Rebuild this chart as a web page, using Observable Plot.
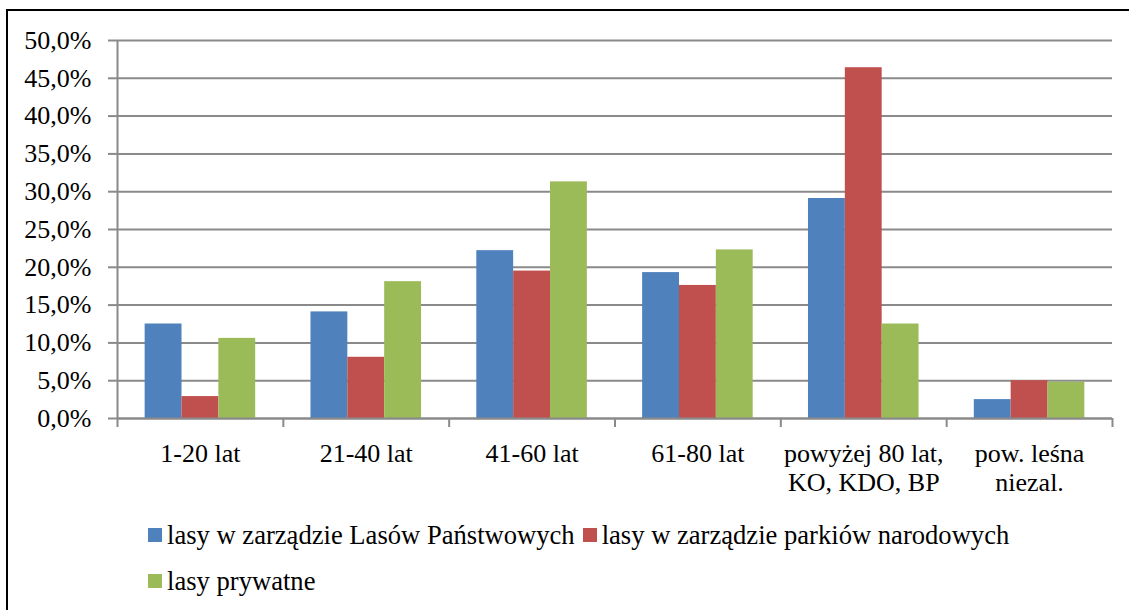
<!DOCTYPE html>
<html>
<head>
<meta charset="utf-8">
<script src="https://cdn.jsdelivr.net/npm/d3@7"></script>
<script src="https://cdn.jsdelivr.net/npm/@observablehq/plot@0.6"></script>
<style>
html,body{margin:0;padding:0;background:#fff;overflow:hidden;}
#page{position:relative;width:1129px;height:610px;overflow:hidden;font-family:'Liberation Serif',serif;color:#000;}
#border{position:absolute;left:6px;top:9px;width:1400px;height:900px;border-left:2px solid #000;border-top:2px solid #000;}
#chart{position:absolute;left:0;top:0;}
#legend{position:absolute;left:148px;top:512px;width:900px;display:flex;flex-wrap:wrap;font-size:26.6px;font-family:'Liberation Serif',serif;}
.item{display:flex;align-items:center;height:46px;margin-right:8px;white-space:nowrap;}
.sw{width:14px;height:14px;margin-right:5px;flex:none;}
</style>
</head>
<body>
<div id="page">
  <div id="border"></div>
  <div id="chart"></div>
  <div id="legend"></div>
</div>
<script>
// ---- data ----
const categories = ["1-20 lat", "21-40 lat", "41-60 lat", "61-80 lat", "powyżej 80 lat,\nKO, KDO, BP", "pow. leśna\nniezal."];
const seriesNames = ["lasy w zarządzie Lasów Państwowych", "lasy w zarządzie parkiów narodowych", "lasy prywatne"];
const stateForests = [12.5, 14.1, 22.2, 19.3, 29.1, 2.5];
const nationalParks = [2.9, 8.1, 19.5, 17.6, 46.4, 5.0];
const privateForests = [10.6, 18.1, 31.3, 22.3, 12.5, 4.8];
const yTicks = [0, 5, 10, 15, 20, 25, 30, 35, 40, 45, 50];
const seriesColors = ["#4F81BD", "#C0504D", "#9BBB59"];

// ---- table ----
const seriesValues = [stateForests, nationalParks, privateForests];
const rows = [];
categories.forEach((c, ci) => seriesNames.forEach((s, si) => rows.push({ci, si, series: s, value: seriesValues[si][ci]})));

const groupPad = 1 / 6;      // empty space on each side of a category group (fraction of a category)
const barW = (1 - 2 * groupPad) / seriesNames.length;
const gray = "#8a8a8a";
const fmt = d => d.toFixed(1).replace(".", ",") + "%";

const chart = Plot.plot({
  width: 1129,
  height: 500,
  marginLeft: 117,
  marginRight: 17,
  marginTop: 40,
  marginBottom: 82,
  style: {fontFamily: "'Liberation Serif', serif", fontSize: "26px", background: "transparent", color: "#000"},
  x: {domain: [0, categories.length], axis: null},
  y: {domain: [0, 50], axis: null},
  color: {domain: seriesNames, range: seriesColors},
  marks: [
    Plot.gridY(yTicks, {stroke: gray, strokeOpacity: 1, strokeWidth: 2}),
    Plot.axisY(yTicks, {tickSize: 9, tickPadding: 17, tickFormat: fmt, stroke: gray, strokeWidth: 2, fill: "#000", label: null}),
    Plot.rectY(rows, {
      x1: d => d.ci + groupPad + d.si * barW,
      x2: d => d.ci + groupPad + (d.si + 1) * barW,
      y1: 0,
      y2: "value",
      fill: "series"
    }),
    Plot.ruleX([0], {stroke: gray, strokeWidth: 2}),
    Plot.ruleY([0], {stroke: gray, strokeWidth: 2}),
    Plot.axisX(d3.range(categories.length + 1), {tickSize: 9, tickFormat: () => "", stroke: gray, strokeWidth: 2, label: null}),
    Plot.axisX(categories.map((c, i) => i + 0.5), {tickSize: 0, tickPadding: 23, tickFormat: d => categories[d - 0.5], lineHeight: 1.12, fill: "#000", label: null})
  ]
});
chart.style.fontFamily = "'Liberation Serif', serif";
document.getElementById("chart").appendChild(chart);

// ---- legend ----
const legend = document.getElementById("legend");
seriesNames.forEach((s, i) => {
  const item = document.createElement("div");
  item.className = "item";
  const sw = document.createElement("div");
  sw.className = "sw";
  sw.style.background = seriesColors[i];
  const t = document.createElement("span");
  t.textContent = s;
  item.appendChild(sw);
  item.appendChild(t);
  legend.appendChild(item);
});
</script>
</body>
</html>
